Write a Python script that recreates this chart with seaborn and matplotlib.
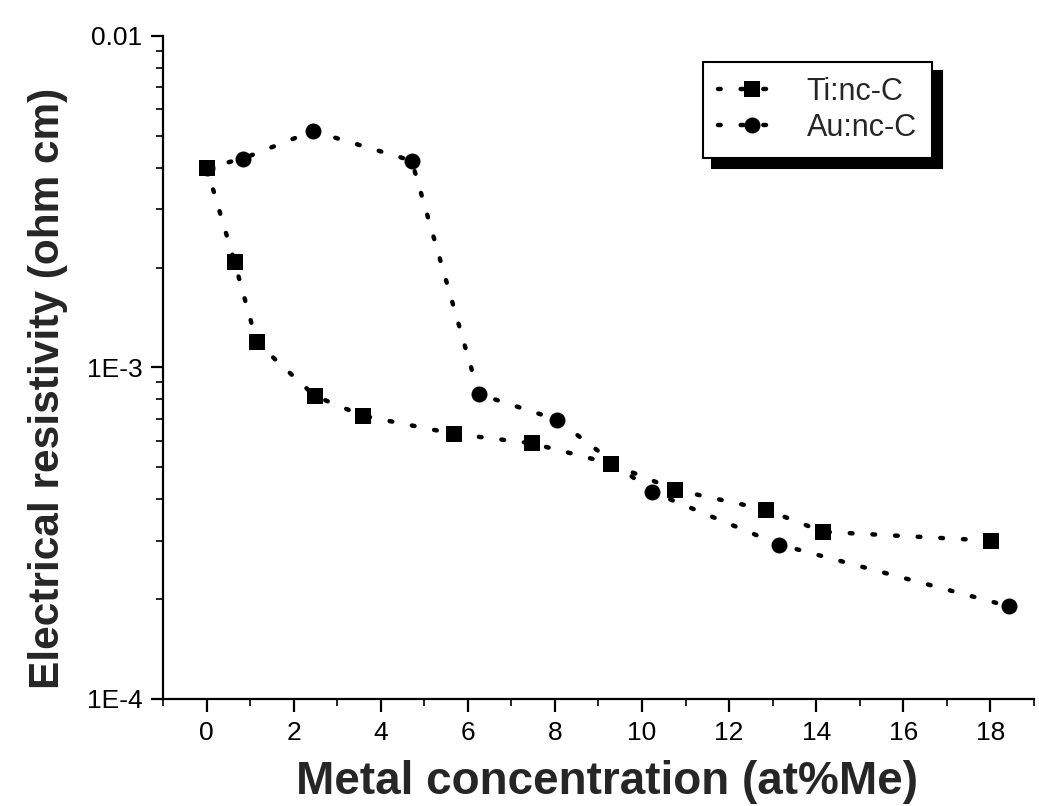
import numpy as np
import pandas as pd
import matplotlib
matplotlib.use('Agg')
import matplotlib.pyplot as plt
import seaborn as sns
from matplotlib.ticker import FixedLocator, LogLocator, FuncFormatter, NullFormatter

# 데이터
ti_conc = [0.0, 0.64, 1.15, 2.48, 3.59, 5.68, 7.47, 9.29, 10.76, 12.85, 14.16, 18.02]
ti_rho = [4.0e-3, 2.08e-3, 1.19e-3, 8.2e-4, 7.14e-4, 6.3e-4, 5.9e-4, 5.12e-4, 4.27e-4, 3.72e-4, 3.19e-4, 3.0e-4]
au_conc = [0.0, 0.83, 2.44, 4.71, 6.25, 8.05, 10.23, 13.15, 18.44]
au_rho = [4.0e-3, 4.26e-3, 5.16e-3, 4.2e-3, 8.3e-4, 6.95e-4, 4.21e-4, 2.92e-4, 1.9e-4]
x_ticks = [0, 2, 4, 6, 8, 10, 12, 14, 16, 18]
y_ticks = [1e-4, 1e-3, 1e-2]
y_tick_labels = {1e-4: '1E-4', 1e-3: '1E-3', 1e-2: '0.01'}

df_ti = pd.DataFrame({'conc': ti_conc, 'rho': ti_rho})
df_au = pd.DataFrame({'conc': au_conc, 'rho': au_rho})

sns.set_style('white')
plt.rcParams['font.family'] = ['Liberation Sans', 'DejaVu Sans']

fig = plt.figure(figsize=(10.39, 8.06), dpi=100)
ax = fig.add_axes([0.157, 0.133, 0.838, 0.8226])

line_kw = dict(color='black', linewidth=3.2, linestyle=(0, (0.6, 4.5)),
               dash_capstyle='round', markersize=11.5, markeredgewidth=0,
               sort=False, estimator=None)
sns.lineplot(data=df_au, x='conc', y='rho', marker='o', label='Au:nc-C', ax=ax, **line_kw)
sns.lineplot(data=df_ti, x='conc', y='rho', marker='s', label='Ti:nc-C', ax=ax, **line_kw)

ax.set_yscale('log')
ax.set_xlim(-1, 19)
ax.set_ylim(1e-4, 1e-2)

ax.xaxis.set_major_locator(FixedLocator(x_ticks))
ax.xaxis.set_minor_locator(FixedLocator(list(range(-1, 20, 2))))
ax.yaxis.set_major_locator(FixedLocator(y_ticks))
ax.yaxis.set_minor_locator(LogLocator(base=10, subs=np.arange(2, 10)))
ax.yaxis.set_major_formatter(FuncFormatter(lambda v, p: y_tick_labels.get(v, '')))
ax.yaxis.set_minor_formatter(NullFormatter())

for side in ['top', 'right']:
    ax.spines[side].set_visible(False)
for side in ['left', 'bottom']:
    ax.spines[side].set_linewidth(1.6)
    ax.spines[side].set_color('black')

ax.tick_params(which='major', direction='out', length=9, width=1.6, labelsize=19, colors='black', left=True, bottom=True)
ax.tick_params(which='minor', direction='out', length=5, width=1.4, left=True, bottom=True)
ax.tick_params(axis='y', which='major', pad=6)
ax.tick_params(axis='x', which='major', pad=7)

ax.set_xlabel('Metal concentration (at%Me)', fontsize=33, fontweight='bold')
ax.set_ylabel('Electrical resistivity (ohm cm)', fontsize=30.5, fontweight='bold')
ax.xaxis.set_label_coords(0.51, -0.093)
ax.yaxis.set_label_coords(-0.109, 0.468)

handles, labels = ax.get_legend_handles_labels()
order = [1, 0]
leg = ax.legend([handles[i] for i in order], [labels[i] for i in order],
                loc='upper right', bbox_to_anchor=(0.883, 0.961), fontsize=22,
                frameon=True, fancybox=False, edgecolor='black', framealpha=1,
                shadow={'ox': 7, 'oy': -7, 'color': 'black', 'alpha': 1},
                handlelength=2.2, borderpad=0.5, labelspacing=0.2, handletextpad=0.7,
                borderaxespad=0)
leg.get_frame().set_linewidth(1.5)

ax.grid(False)
plt.savefig('out.png', dpi=100)
plt.close()
